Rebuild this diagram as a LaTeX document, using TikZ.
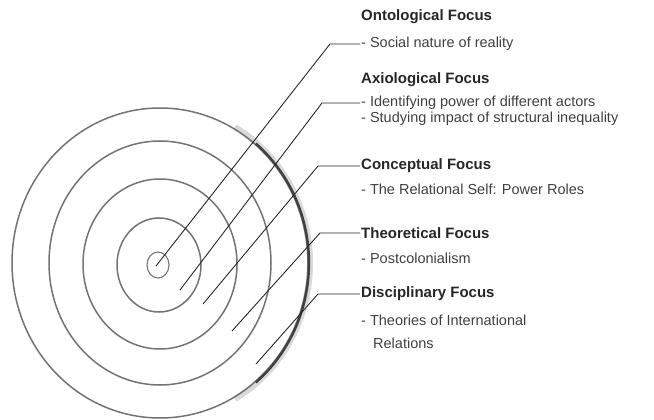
\documentclass[tikz,border=0pt]{standalone}
\usepackage{fontspec}
\setmainfont{Liberation Sans}
\usepackage{tikz}
\usetikzlibrary{positioning,calc}
\tikzset{
  ring/.style  ={draw=black!55, line width=1.5pt},
  rim/.style   ={draw=black!75, line width=2.4pt},
  halo/.style  ={draw=black!15, line width=6pt},
  lead/.style  ={draw=black!85, line width=0.9pt},
  lenshd/.style={font=\fontsize{15}{17}\selectfont\bfseries, text=black!85,
                 inner sep=1pt, anchor=west},
  lensit/.style={font=\fontsize{14.5}{16}\selectfont, text=black!75,
                 inner sep=1pt, anchor=west},
}

\begin{document}
\begin{tikzpicture}[x=1pt,y=-1pt]
  \useasboundingbox (0,0) rectangle (654,420);
  % target rings
  \draw[halo] (160,263) ++(-60:150pt and 157pt) arc (-60:60:150pt and 157pt);
  \draw[ring] (160,263) ellipse (148pt and 155pt);
  \draw[rim]  (160,263) ++(-50:149pt and 156pt) arc (-50:50:149pt and 156pt);
  \draw[ring] (160,263) ellipse (111pt and 122pt);
  \draw[ring] (160,264) ellipse (77pt and 85pt);
  \draw[ring] (159,265) ellipse (42pt and 47pt);
  \draw[ring, line width=1.1pt] (158,265) ellipse (11pt and 13pt);

  % lens labels
  \node[lenshd] (h1) at (360,17)  {Ontological Focus};
  \node[lensit] (i1) at (360,44)  {- Social nature of reality};
  \node[lenshd] (h2) at (360,80)  {Axiological Focus};
  \node[lensit] (i2) at (360,103) {- Identifying power of different actors};
  \node[lensit] (j2) at (360,119) {- Studying impact of structural inequality};
  \node[lenshd] (h3) at (360,166) {Conceptual Focus};
  \node[lensit] (i3) at (360,189) {- The Relational Self: Power Roles};
  \node[lenshd] (h4) at (360,233) {Theoretical Focus};
  \node[lensit] (i4) at (360,258) {- Postcolonialism};
  \node[lenshd] (h5) at (360,294) {Disciplinary Focus};
  \node[lensit] (i5) at (360,320) {- Theories of International};
  \node[lensit] (j5) at (372,343) {Relations};

  % leader lines
  \coordinate (s1) at (156,266);
  \coordinate (s2) at (180,290);
  \coordinate (s3) at (203,304);
  \coordinate (s4) at (232,331);
  \coordinate (s5) at (256,364);
  \coordinate (b1) at (330,44);
  \coordinate (b2) at (322,103);
  \coordinate (b3) at (318,166);
  \coordinate (b4) at (320,233);
  \coordinate (b5) at (318,294);
  \draw[lead] (s1) -- (b1) -- (i1.west);
  \draw[lead] (s2) -- (b2) -- (i2.west);
  \draw[lead] (s3) -- (b3) -- (h3.west);
  \draw[lead] (s4) -- (b4) -- (h4.west);
  \draw[lead] (s5) -- (b5) -- (h5.west);
\end{tikzpicture}
\end{document}
